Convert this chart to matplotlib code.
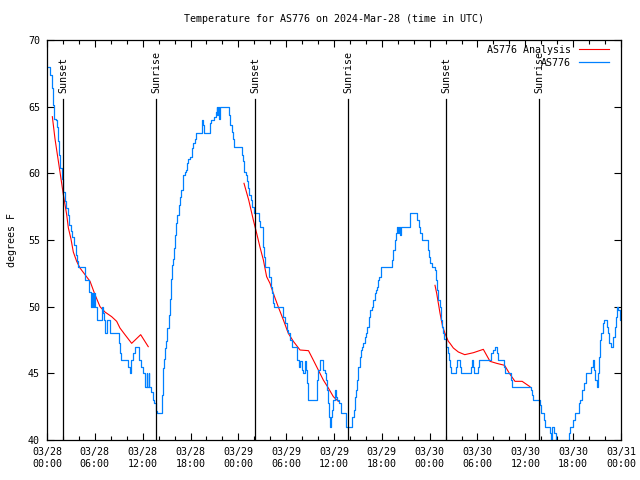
import numpy as np
import matplotlib
matplotlib.use("Agg")
import matplotlib.pyplot as plt

plt.rcParams['font.family'] = ['DejaVu Sans Mono']

title = "Temperature for AS776 on 2024-Mar-28 (time in UTC)"
ylabel = "degrees F"

# hours since 2024-03-28 00:00 UTC
obs_hours = [0.12, 0.38, 0.59, 0.80, 0.92, 1.10, 1.21, 1.34, 1.50, 1.63, 1.84, 2.05, 2.26, 2.38, 2.59, 2.76,
             2.97, 3.18, 3.43, 3.64, 3.80, 3.93, 4.77, 5.31, 5.52, 5.65, 5.80, 5.90, 6.05, 6.23, 6.86, 7.05,
             7.15, 7.30, 7.50, 7.95, 9.00, 9.10, 9.30, 10.15, 10.35, 10.55, 10.85, 11.10, 11.50, 11.85, 12.10,
             12.30, 12.50, 12.60, 12.75, 12.85, 13.00, 13.30, 13.45, 13.63, 13.75, 14.38, 14.50, 14.60, 14.70,
             14.80, 14.95, 15.05, 15.25, 15.43, 15.55, 15.72, 15.85, 15.97, 16.10, 16.20, 16.35, 16.50, 16.70,
             16.85, 17.00, 17.10, 17.25, 17.44, 17.55, 17.73, 17.95, 18.14, 18.35, 18.57, 18.70, 19.40, 19.50,
             19.60, 19.70, 20.45, 20.55, 21.00, 21.15, 21.28, 21.38, 21.45, 21.55, 21.70, 22.85, 23.00, 23.16,
             23.30, 23.45, 24.40, 24.54, 24.70, 24.90, 25.04, 25.25, 25.40, 25.54, 25.75, 25.96, 26.55, 26.75,
             27.06, 27.10, 27.20, 27.30, 27.40, 27.80, 28.05, 28.20, 28.39, 28.50, 29.60, 29.80, 30.06, 30.27,
             30.48, 30.70, 31.30, 31.55, 31.75, 31.95, 32.10, 32.30, 32.45, 32.57, 32.75, 33.90, 34.05, 34.20,
             34.60, 34.87, 35.05, 35.15, 35.30, 35.40, 35.50, 35.62, 35.75, 35.90, 36.10, 36.25, 36.40, 36.60,
             36.85, 37.55, 38.25, 38.45, 38.62, 38.76, 38.90, 39.05, 39.20, 39.35, 39.47, 39.70, 39.85, 39.97,
             40.15, 40.35, 40.50, 40.75, 40.95, 41.15, 41.30, 41.45, 41.56, 41.70, 41.85, 43.25, 43.45, 43.65,
             43.80, 43.95, 44.05, 44.20, 44.30, 44.45, 45.50, 46.45, 46.60, 46.85, 47.00, 47.75, 47.90, 48.10,
             48.30, 48.67, 48.80, 48.90, 49.10, 49.25, 49.38, 49.50, 49.65, 49.80, 50.00, 50.26, 50.40, 50.55,
             50.67, 51.30, 51.45, 51.75, 51.90, 53.15, 53.25, 53.40, 53.50, 54.10, 54.20, 55.75, 55.95, 56.15,
             56.45, 56.60, 57.30, 57.45, 58.15, 58.30, 60.75, 60.85, 61.00, 61.80, 62.00, 62.35, 62.50, 63.10,
             63.20, 63.30, 63.65, 63.85, 65.50, 65.65, 65.95, 66.25, 66.75, 66.90, 67.15, 67.40, 67.60, 68.20,
             68.45, 68.65, 68.78, 68.95, 69.10, 69.25, 69.40, 69.55, 69.75, 69.90, 70.25, 70.40, 70.55, 70.70,
             71.00, 71.20, 71.35, 71.50, 71.65, 71.85, 71.95]
obs_temps = [68.0, 67.4, 66.4, 65.1, 64.1, 64.0, 63.5, 62.4, 61.4, 60.4, 59.6, 58.6, 57.9, 57.4, 56.9, 56.1,
             55.7, 55.2, 54.6, 53.9, 53.4, 53.0, 52.0, 51.1, 50.0, 51.0, 50.0, 51.0, 50.0, 49.0, 50.0, 49.5,
             49.0, 48.0, 49.0, 48.0, 47.25, 46.5, 46.0, 45.5, 45.0, 46.0, 46.5, 47.0, 46.0, 45.5, 45.0,
             44.0, 45.0, 44.0, 45.0, 44.0, 43.6, 43.0, 42.75, 42.2, 42.0, 43.4, 44.4, 45.4, 46.1,
             46.9, 47.4, 48.4, 49.4, 50.6, 52.1, 53.1, 53.6, 54.4, 55.4, 56.25, 56.9, 57.6, 58.25,
             58.75, 59.25, 59.9, 60.1, 60.25, 60.75, 61.1, 61.25, 61.9, 62.25, 62.6, 63.0, 63.6, 64.0,
             63.6, 63.0, 63.75, 64.0, 64.25, 64.6, 65.0, 64.4, 65.0, 64.1, 65.0, 64.4, 63.6, 63.1,
             62.6, 62.0, 61.4, 60.9, 60.1, 59.9, 59.4, 58.9, 58.4, 58.0, 57.5, 57.0, 56.4, 56.0,
             55.5, 54.5, 53.75, 53.25, 53.0, 52.25, 51.5, 51.0, 50.25, 50.0, 49.25, 48.75, 48.25, 48.0,
             47.5, 47.0, 46.0, 45.5, 45.9, 45.25, 45.0, 45.9, 45.25, 44.25, 43.0, 44.5, 45.25, 46.0,
             45.25, 45.0, 44.5, 43.75, 42.75, 41.75, 41.0, 41.75, 42.25, 43.0, 43.75, 43.25, 43.0, 42.75,
             42.0, 41.0, 41.75, 42.25, 43.25, 43.75, 44.5, 45.5, 46.25, 46.75, 47.0, 47.25, 47.75, 48.0,
             48.5, 49.25, 49.75, 50.0, 50.5, 51.0, 51.25, 51.5, 52.0, 52.25, 53.0, 53.5, 54.25, 55.0,
             55.5, 56.0, 55.5, 56.0, 55.4, 56.0, 57.0, 56.5, 56.0, 55.5, 55.0, 54.25, 53.75, 53.25,
             53.0, 52.75, 52.0, 51.25, 50.5, 50.0, 49.0, 48.5, 48.0, 47.6, 47.0, 46.5, 46.0, 45.5,
             45.0, 45.5, 46.0, 45.5, 45.0, 45.5, 46.0, 45.5, 45.0, 45.5, 46.0, 46.5, 46.75, 47.0,
             46.5, 46.0, 45.5, 45.0, 44.5, 44.0, 43.75, 43.4, 43.0, 42.6, 42.0, 41.5, 41.0, 40.5,
             39.5, 41.0, 40.5, 39.5, 40.5, 41.0, 41.5, 42.0, 42.75, 43.0, 43.75, 44.25, 45.0, 45.5,
             46.0, 45.25, 44.5, 44.0, 45.0, 46.25, 47.5, 48.0, 48.75, 49.0, 48.5, 48.0, 47.25, 47.0,
             47.75, 48.5, 49.25, 50.0, 49.75, 49.0, 49.0]

# analysis series (NaN separates the three night-time segments)
ana_hours = [0.67, 1.0, 1.3, 1.63, 2.05, 2.47, 2.68, 3.0, 3.3, 3.72, 4.14, 4.77, 5.4, 6.02, 6.65, 7.27,
             8.11, 8.74, 9.15, 9.78, 10.62, 11.75, 12.7, np.nan,
             24.71, 25.3, 25.88, 26.3, 26.7, 27.14, 27.55, 27.97, 28.39, 29.0, 29.65, 30.27, 30.9,
             31.74, 32.8, 33.4, 34.03, 34.66, 35.29, 35.92, 36.54, np.nan,
             48.67, 48.88, 49.3, 49.63, 49.92, 50.34, 50.55, 50.97, 51.6, 52.4, 53.5, 54.73, 55.57,
             56.4, 57.4, 58.0, 58.7, 59.6, 60.58]
ana_temps = [64.25, 62.6, 61.4, 60.1, 58.4, 56.9, 55.9, 55.1, 54.1, 53.4, 52.9, 52.4, 51.9, 50.9, 50.0, 49.6,
             49.25, 48.9, 48.4, 47.9, 47.25, 47.9, 47.0, np.nan,
             59.25, 58.0, 56.5, 55.5, 54.5, 53.5, 52.25, 51.75, 51.0, 50.0, 49.0, 48.0, 47.4,
             46.75, 46.7, 46.0, 45.25, 44.5, 43.9, 43.25, 42.9, np.nan,
             51.6, 51.0, 49.5, 48.5, 48.0, 47.4, 47.25, 46.9, 46.6, 46.4, 46.55, 46.8, 45.9,
             45.75, 45.6, 45.0, 44.4, 44.4, 44.0]

event_hours = [2.05, 13.72, 26.1, 37.8, 50.1, 61.72]
event_labels = ["Sunset", "Sunrise", "Sunset", "Sunrise", "Sunset", "Sunrise"]

xtick_hours = list(range(0, 73, 6))
xtick_labels = ["03/28\n00:00", "03/28\n06:00", "03/28\n12:00", "03/28\n18:00", "03/29\n00:00",
                "03/29\n06:00", "03/29\n12:00", "03/29\n18:00", "03/30\n00:00", "03/30\n06:00",
                "03/30\n12:00", "03/30\n18:00", "03/31\n00:00"]
yticks = [40, 45, 50, 55, 60, 65, 70]

FS = 7.2

fig = plt.figure(figsize=(6.4, 4.8), dpi=100)
ax = fig.add_axes([47/640, 40/480, 574/640, 400/480])

ax.plot(ana_hours, ana_temps, color='#ff0000', lw=0.8, label="AS776 Analysis")
ax.plot(obs_hours, obs_temps, color='#0080ff', lw=0.9, drawstyle='steps-post', label="AS776")

for h, lab in zip(event_hours, event_labels):
    ax.plot([h, h], [0, 0.8525], color='black', lw=0.9, transform=ax.get_xaxis_transform())
    ax.text(h, 0.868, lab, rotation=90, ha='center', va='bottom', fontsize=FS,
            transform=ax.get_xaxis_transform())

ax.set_xlim(0, 72)
ax.set_ylim(40, 70)
ax.set_xticks(xtick_hours)
ax.set_xticklabels(xtick_labels, linespacing=1.3)
ax.set_xticks(list(range(0, 73, 2)), minor=True)
ax.set_yticks(yticks)
ax.set_yticklabels([str(v) for v in yticks])
ax.tick_params(axis='both', which='major', direction='in', length=5, width=0.8,
               top=True, right=True, labelsize=FS, pad=5)
ax.tick_params(axis='x', which='minor', direction='in', length=3, width=0.8, top=True)
for s in ax.spines.values():
    s.set_linewidth(0.9)

ax.set_ylabel(ylabel, fontsize=FS, labelpad=8)
fig.text(334/640, 1 - 19/480, title, ha='center', va='center', fontsize=FS)

leg = ax.legend(loc='upper right', bbox_to_anchor=(1 - 10/574, 1 - 3/400), frameon=False,
                markerfirst=False, fontsize=FS, handlelength=3.0, handletextpad=0.8,
                labelspacing=0.3, borderaxespad=0.0, borderpad=0.2)

fig.savefig("out.png", dpi=100)
